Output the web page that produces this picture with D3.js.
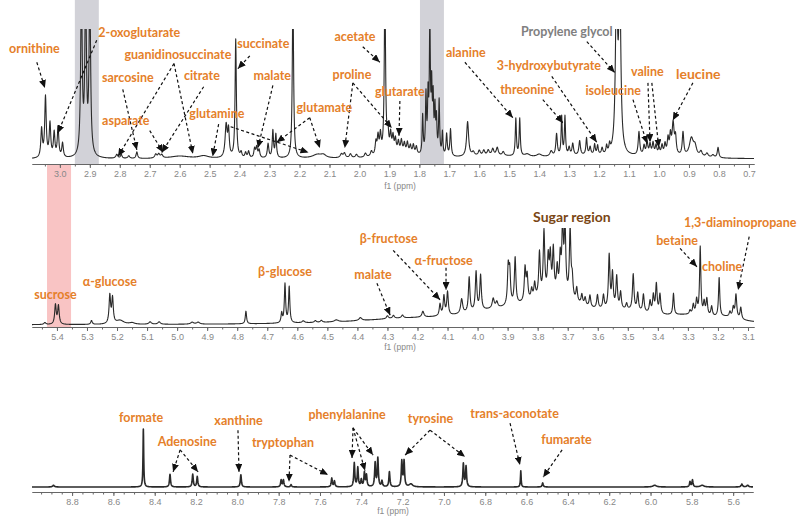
<!DOCTYPE html>
<html><head><meta charset="utf-8">
<script src="https://cdn.jsdelivr.net/npm/d3@7/dist/d3.min.js"></script>
<style>body{margin:0;background:#fff}svg{display:block}</style>
</head><body><svg id="c" width="808" height="517"></svg>
<script>
// ---------- DATA (ppm, relative intensity, half-width in ppm) ----------
const topPeaks = [
 [3.061,22,0.003],[3.048,47,0.003],[3.033,26,0.003],[3.019,19,0.003],[3.006,23,0.003],[2.991,11,0.003],
 [2.928,130,0.003],[2.914,130,0.003],[2.900,130,0.003],
 [2.81,3,0.004],[2.795,3,0.003],[2.77,2,0.004],[2.743,5,0.003],[2.68,3,0.004],[2.67,3,0.004],[2.66,2.5,0.004],
 [2.60,2,0.04],[2.52,2,0.02],
 [2.445,25,0.004],[2.437,20,0.003],[2.413,92,0.0025],
 [2.395,4,0.003],[2.38,4,0.003],[2.37,5,0.003],[2.35,7,0.003],[2.343,8,0.003],[2.335,6,0.003],
 [2.305,11,0.003],[2.289,21,0.0025],[2.279,18,0.0025],[2.222,130,0.0025],
 [2.14,3,0.02],[2.12,2,0.01],[2.06,3,0.005],[2.05,3.5,0.004],[2.03,3,0.004],[2.01,2.5,0.004],[1.98,3,0.004],[1.96,4,0.004],
 [1.945,10,0.003],[1.938,14,0.003],[1.930,15,0.003],[1.915,130,0.0025],[1.905,16,0.003],[1.896,14,0.003],[1.888,12,0.003],
 [1.88,10,0.003],[1.87,8,0.003],[1.86,9,0.003],[1.85,7,0.003],[1.84,8,0.003],[1.83,6,0.003],[1.82,7,0.003],[1.81,6,0.003],[1.86,4,0.05],
 [1.789,30,0.002],[1.778,45,0.002],[1.771,42,0.002],[1.765,100,0.002],[1.759,48,0.002],[1.754,40,0.002],[1.748,33,0.002],
 [1.743,26,0.002],[1.734,42,0.002],[1.723,18,0.002],[1.709,17,0.0025],[1.696,21,0.0025],
 [1.639,27,0.004],[1.62,3,0.005],[1.60,4,0.004],[1.585,4,0.004],[1.57,4,0.004],[1.555,5,0.004],[1.54,6,0.004],[1.52,3,0.004],
 [1.478,29,0.0022],[1.465,29,0.0022],[1.44,2,0.01],[1.40,2,0.01],[1.36,4,0.005],
 [1.342,17,0.003],[1.325,30,0.0022],[1.314,30,0.0022],[1.30,6,0.003],[1.288,9,0.003],[1.265,11,0.003],[1.242,13,0.0025],
 [1.23,6,0.003],[1.215,8,0.0025],[1.205,7,0.0025],[1.19,5,0.003],[1.175,6,0.0025],[1.165,6,0.0025],
 [1.142,130,0.004],[1.131,130,0.004],
 [1.067,18,0.003],[1.05,7,0.003],[1.04,10,0.003],[1.03,8,0.003],[1.02,9,0.003],[1.01,7,0.003],[1.00,5,0.003],[0.99,7,0.003],
 [0.98,8,0.003],[0.97,12,0.003],[0.962,14,0.003],[0.953,24,0.004],[0.945,13,0.003],[0.92,18,0.003],[0.892,14,0.008],
 [0.88,7,0.006],[0.86,4,0.005],[0.84,3,0.005],[0.82,2,0.005],[0.803,8,0.003],
 [1.55,2,0.1],[1.25,2,0.1],[1.0,2,0.1]
];
const midPeaks = [
 [5.44,2,0.004],[5.405,20,0.003],[5.395,19,0.003],[5.285,4,0.003],[5.224,29,0.003],[5.215,26,0.003],[5.19,4,0.015],
 [5.15,1.5,0.01],[5.09,2.5,0.005],[5.06,2.5,0.005],[4.95,2,0.006],[4.93,2,0.006],[4.771,13,0.0025],
 [4.652,10,0.0025],[4.641,40,0.0025],[4.627,37,0.0025],[4.58,2,0.005],[4.54,2,0.004],[4.52,2,0.004],[4.47,2,0.008],
 [4.39,3,0.006],[4.30,3,0.004],[4.28,3,0.004],[4.25,3,0.004],[4.182,6,0.004],
 [4.125,12,0.003],[4.112,20,0.003],[4.100,24,0.003],[4.053,15,0.004],[4.028,36,0.003],[4.005,40,0.003],[3.99,36,0.003],
 [3.948,10,0.004],[3.936,6,0.004],
 [3.898,38,0.003],[3.893,33,0.003],[3.875,48,0.003],[3.842,34,0.003],[3.835,25,0.003],[3.82,10,0.003],[3.81,15,0.003],
 [3.794,45,0.003],[3.779,65,0.003],[3.765,36,0.003],[3.758,38,0.003],[3.748,45,0.003],[3.735,26,0.003],[3.725,36,0.003],
 [3.717,70,0.003],[3.709,70,0.003],[3.692,70,0.003],[3.685,20,0.003],[3.67,14,0.003],
 [3.653,10,0.003],[3.642,8,0.003],[3.626,12,0.003],[3.601,14,0.003],[3.581,14,0.003],[3.562,55,0.003],[3.551,36,0.003],
 [3.537,33,0.003],[3.524,17,0.003],[3.504,6,0.003],[3.482,37,0.003],[3.467,18,0.003],[3.448,18,0.003],[3.426,12,0.003],
 [3.415,18,0.003],[3.405,30,0.003],[3.393,20,0.003],[3.348,22,0.0025],[3.293,4,0.003],[3.282,10,0.003],[3.271,15,0.003],
 [3.259,70,0.0025],[3.246,13,0.003],[3.237,17,0.003],[3.221,10,0.003],[3.196,40,0.0025],[3.16,5,0.003],[3.149,10,0.003],
 [3.14,24,0.003],[3.124,12,0.003],
 [4.25,4,0.2],[3.95,8,0.15],[3.75,25,0.12],[3.5,8,0.1],[3.3,6,0.1],[3.17,4,0.05]
];
const botPeaks = [
 [8.89,3,0.005],[8.455,100,0.002],[8.326,22,0.003],[8.216,22,0.003],[8.194,18,0.003],[7.983,21,0.003],
 [7.788,12,0.003],[7.777,12,0.003],[7.74,4,0.003],[7.543,15,0.003],[7.530,10,0.003],
 [7.434,41,0.003],[7.417,33,0.003],[7.40,12,0.003],[7.385,24,0.003],[7.375,20,0.003],[7.333,41,0.003],[7.320,49,0.003],
 [7.30,10,0.003],[7.264,26,0.003],[7.204,44,0.003],[7.193,44,0.003],[7.16,5,0.01],
 [6.906,40,0.003],[6.893,35,0.003],[6.628,28,0.002],[6.522,7,0.003],[5.98,3,0.01],[5.809,9,0.003],[5.797,12,0.003],
 [5.75,3,0.01],[5.558,5,0.004],[5.53,3,0.005]
];
const topTicks = [3.0,2.9,2.8,2.7,2.6,2.5,2.4,2.3,2.2,2.1,2.0,1.9,1.8,1.7,1.6,1.5,1.4,1.3,1.2,1.1,1.0,0.9,0.8,0.7];
const midTicks = [5.4,5.3,5.2,5.1,5.0,4.9,4.8,4.7,4.6,4.5,4.4,4.3,4.2,4.1,4.0,3.9,3.8,3.7,3.6,3.5,3.4,3.3,3.2,3.1];
const botTicks = [8.8,8.6,8.4,8.2,8.0,7.8,7.6,7.4,7.2,7.0,6.8,6.6,6.4,6.2,6.0,5.8,5.6];
// labels: text, ppm, intensity
const topLabels = [
 ["ornithine",3.085,82],["2-oxoglutarate",2.735,94.6],["guanidinosuccinate",2.606,77.5],["succinate",2.321,86],
 ["acetate",2.015,91.5],["sarcosine",2.773,59.7],["citrate",2.526,61.2],["malate",2.291,61.2],["proline",2.025,62],
 ["glutarate",1.865,48.8],["asparate",2.78,26.4],["glutamine",2.476,31.8],["glutamate",2.117,36.4],
 ["alanine",1.645,79],["3-hydroxybutyrate",1.368,69],["threonine",1.44,50.4],["isoleucine",1.153,49.6],
 ["valine",1.039,64.3],["leucine",0.869,62]
];
const topArrows = [
 [3.077,75,3.05,55],[2.877,92,3.007,20],[2.619,74,2.806,2],[2.619,74,2.556,4],[2.79,54,2.743,7],[2.52,56,2.66,5],
 [2.70,22,2.655,5],[2.47,27,2.49,2],[2.43,25,2.17,5],[2.366,80,2.406,70],[2.289,57,2.339,8.5],
 [2.166,32,2.276,13],[2.166,32,2.132,8.5],[2.022,59,2.049,8.5],[2.022,59,1.892,24],[1.989,87,1.932,75],
 [1.865,45,1.868,18],[1.648,75,1.488,32],[1.388,46,1.321,28],[1.358,64,1.208,13],[1.241,91,1.148,67],
 [1.087,46,1.04,12],[1.037,59,1.03,13],[1.024,59,1.001,9],[0.887,59,0.954,30]
];
const midLabels = [
 ["sucrose",5.405,26.8],["α-glucose",5.224,40.2],["β-glucose",4.641,50.5],["malate",4.348,47.4],
 ["β-fructose",4.296,84.5],["α-fructose",4.113,61.9],["1,3-diaminopropane",3.126,101],["betaine",3.336,82.5],["choline",3.186,55.7]
];
const midArrows = [[4.335,43,4.291,10],[4.281,77,4.125,26],[4.105,59,4.105,36],[3.326,79,3.27,60],[3.096,91,3.133,36]];
const botLabels = [
 ["formate",8.466,112],["Adenosine",8.243,70.7],["xanthine",7.994,106.9],["tryptophan",7.779,69],
 ["phenylalanine",7.469,117.2],["tyrosine",7.065,110.3],["trans-aconotate",6.658,119],["fumarate",6.407,74.1]
];
const botArrows = [
 [8.277,64,8.311,26],[8.277,64,8.19,26],[7.997,98,7.992,26],[7.745,55,7.75,9],[7.745,55,7.561,21],
 [7.44,102,7.445,50],[7.44,102,7.382,28],[7.44,102,7.343,55],[7.067,98,7.188,55],[7.067,98,6.898,52],
 [6.68,110,6.632,38],[6.428,64,6.52,17]
];
const greyBands = [[2.95,2.87],[1.798,1.718]];
const pinkBand = [5.433,5.353];

// ---------- DRAWING ----------
const svg = d3.select("#c");
const ORANGE = "#E5802A";
const defs = svg.append("defs");
defs.append("marker").attr("id","ah").attr("viewBox","0 0 8 7").attr("refX",8).attr("refY",3.5)
  .attr("markerWidth",8).attr("markerHeight",7).attr("markerUnits","userSpaceOnUse").attr("orient","auto")
  .append("path").attr("d","M0,0L8,3.5L0,7Z").attr("fill","#111");

const panels = [
 {id:"t", peaks:topPeaks, ticks:topTicks, labels:topLabels, arrows:topArrows, dom:[3.093,0.683], xr:[32,754], yr:[159,30], axisY:164, unitY:189, unitX:400, fmt:".1f", minorStep:0.05, clipTop:29, sw:1.1},
 {id:"m", peaks:midPeaks, ticks:midTicks, labels:midLabels, arrows:midArrows, dom:[5.483,3.080], xr:[32,754], yr:[325,228], axisY:327, unitY:350, unitX:400, fmt:".1f", minorStep:0.05, clipTop:228, sw:1.1},
 {id:"b", peaks:botPeaks, ticks:botTicks, labels:botLabels, arrows:botArrows, dom:[8.994,5.504], xr:[32,753], yr:[487,429], axisY:492, unitY:514, unitX:393, fmt:".1f", minorStep:0.05, clipTop:380, sw:1.6}
];
panels.forEach(p=>{ p.x = d3.scaleLinear().domain(p.dom).range(p.xr); p.y = d3.scaleLinear().domain([0,100]).range(p.yr); });
const [T,M,B] = panels;

// bands
greyBands.forEach(b=>{
  svg.append("rect").attr("x",T.x(b[0])).attr("width",T.x(b[1])-T.x(b[0])).attr("y",0).attr("height",T.axisY-0)
    .attr("fill","#d2d2d8");
});
svg.append("rect").attr("x",M.x(pinkBand[0])).attr("width",M.x(pinkBand[1])-M.x(pinkBand[0]))
  .attr("y",T.axisY).attr("height",M.axisY-T.axisY).attr("fill","#f9c4c4");

function spectrum(peaks, dom, n){
  const [a,b]=dom; const xs=[];
  for(let i=0;i<=n;i++) xs.push(a+(b-a)*i/n);
  peaks.forEach(pk=>{ if(pk[0]<a && pk[0]>b) xs.push(pk[0]); });
  xs.sort((u,v)=>v-u);
  return xs.map(p=>{ let s=0; for(const [c,h,w] of peaks){ const d=(p-c)/w; s+=h/(1+d*d);} return [p,s]; });
}

panels.forEach(p=>{
  defs.append("clipPath").attr("id","clip"+p.id).append("rect")
    .attr("x",p.xr[0]).attr("y",p.clipTop).attr("width",p.xr[1]-p.xr[0]).attr("height",p.axisY-p.clipTop);
  const data = spectrum(p.peaks, p.dom, (p.xr[1]-p.xr[0])*4);
  svg.append("path").datum(data).attr("clip-path","url(#clip"+p.id+")")
    .attr("fill","none").attr("stroke","#2a2a2a").attr("stroke-width",p.sw).attr("stroke-linejoin","round")
    .attr("d", d3.line().x(d=>p.x(d[0])).y(d=>p.y(d[1])));
  // axis
  const minor = d3.range(Math.ceil(p.dom[1]/p.minorStep)*p.minorStep, p.dom[0], p.minorStep);
  const gm = svg.append("g").attr("transform",`translate(0,${p.axisY})`)
    .call(d3.axisBottom(p.x).tickValues(minor).tickSize(2.5).tickFormat("").tickSizeOuter(0));
  gm.select(".domain").attr("stroke","#666");
  gm.selectAll(".tick line").attr("stroke","#666");
  const g = svg.append("g").attr("transform",`translate(0,${p.axisY})`)
    .call(d3.axisBottom(p.x).tickValues(p.ticks).tickSize(4).tickPadding(3).tickFormat(d3.format(p.fmt)).tickSizeOuter(0));
  g.select(".domain").attr("stroke","#666");
  g.selectAll(".tick line").attr("stroke","#666");
  g.selectAll("text").attr("fill","#888").attr("font-size",9).attr("font-family","Liberation Sans, Arial, sans-serif");
  svg.append("text").attr("x",p.unitX).attr("y",p.unitY).attr("text-anchor","middle").attr("fill","#888")
    .attr("font-size",8.5).attr("font-family","Liberation Sans, Arial, sans-serif").text("f1 (ppm)");
  // arrows
  p.arrows.forEach(a=>{
    svg.append("line").attr("x1",p.x(a[0])).attr("y1",p.y(a[1])).attr("x2",p.x(a[2])).attr("y2",p.y(a[3]))
      .attr("stroke","#111").attr("stroke-width",1.2).attr("stroke-dasharray","3,2.5").attr("marker-end","url(#ah)");
  });
  // labels
  p.labels.forEach(l=>{
    svg.append("text").attr("x",p.x(l[1])).attr("y",p.y(l[2])).attr("text-anchor","middle")
      .attr("fill",ORANGE).attr("font-family","Lato, sans-serif").attr("font-weight","bold")
      .attr("font-size", l[0]==="leucine"?14:12.5).text(l[0]);
  });
});
// special labels
svg.append("text").attr("x",T.x(1.308)).attr("y",T.y(95.3)).attr("text-anchor","middle").attr("fill","#808080")
  .attr("font-family","Lato, sans-serif").attr("font-weight","bold").attr("font-size",12.5).text("Propylene glycol");
svg.append("text").attr("x",M.x(3.686)).attr("y",M.y(106.2)).attr("text-anchor","middle").attr("fill","#7a4614")
  .attr("font-family","Lato, sans-serif").attr("font-weight","bold").attr("font-size",14).text("Sugar region");
</script></body></html>
